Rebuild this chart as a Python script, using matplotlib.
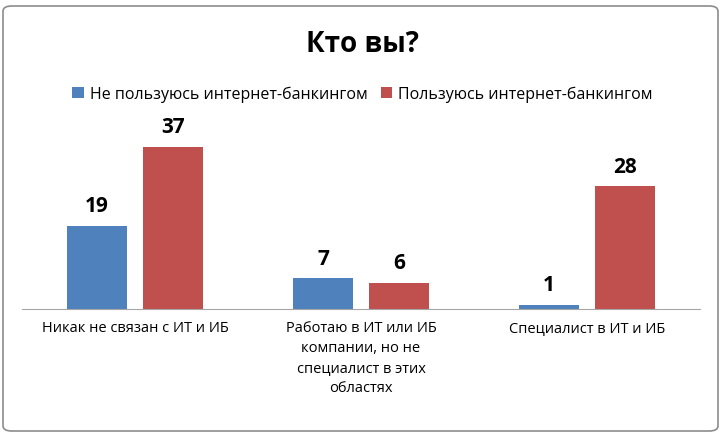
import matplotlib
matplotlib.use("Agg")
import matplotlib.pyplot as plt
from matplotlib.patches import FancyBboxPatch
import numpy as np

categories = ["Никак не связан с ИТ и ИБ",
              "Работаю в ИТ или ИБ\nкомпании, но не\nспециалист в этих\nобластях",
              "Специалист в ИТ и ИБ"]
series_names = ["Не пользуюсь интернет-банкингом", "Пользуюсь интернет-банкингом"]
no_banking = [19, 7, 1]
banking = [37, 6, 28]
colors = ["#4F81BD", "#C0504D"]

plt.rcParams["font.family"] = ["Open Sans", "DejaVu Sans"]

W, H = 725, 435
fig = plt.figure(figsize=(W / 100, H / 100), dpi=100)

# rounded grey frame behind everything
frame = FancyBboxPatch((3 / W, 3 / H), (W - 10) / W, (H - 10) / H,
                       boxstyle="round,pad=0,rounding_size=0.012",
                       transform=fig.transFigure, facecolor="white",
                       edgecolor="#8c8c8c", linewidth=1.2, zorder=-10)
fig.patches.append(frame)

ax = fig.add_axes([22 / W, (H - 310) / H, 678 / W, 195 / H])
ax.set_zorder(5)
x = np.arange(len(categories))
w = 0.265
off = 0.168
for vals, dx, c, name in [(no_banking, -off, colors[0], series_names[0]),
                          (banking, off, colors[1], series_names[1])]:
    bars = ax.bar(x + dx, vals, w, color=c, label=name)
    for b, v in zip(bars, vals):
        ax.text(b.get_x() + b.get_width() / 2, v + 2.2, str(v), ha="center",
                va="bottom", fontsize=15, fontweight="bold")

ax.set_xlim(-0.5, 2.5)
ax.set_ylim(0, 44.5)
ax.set_yticks([])
ax.set_xticks(x)
ax.set_xticklabels(categories, fontsize=10.5, linespacing=1.45, va="top")
ax.tick_params(axis="x", length=0, pad=8)
for s in ["top", "right", "left"]:
    ax.spines[s].set_visible(False)
ax.spines["bottom"].set_color("#a6a6a6")
ax.patch.set_alpha(0)

fig.text(0.5, 1 - 45 / H, "Кто вы?", ha="center", va="center",
         fontsize=20, fontweight="bold")
fig.legend(loc="center", bbox_to_anchor=(0.5, 1 - 95 / H), ncol=2,
           frameon=False, fontsize=11.5, handlelength=0.7, handleheight=0.7,
           handletextpad=0.4, columnspacing=0.8)

fig.savefig("out.png", dpi=100)
